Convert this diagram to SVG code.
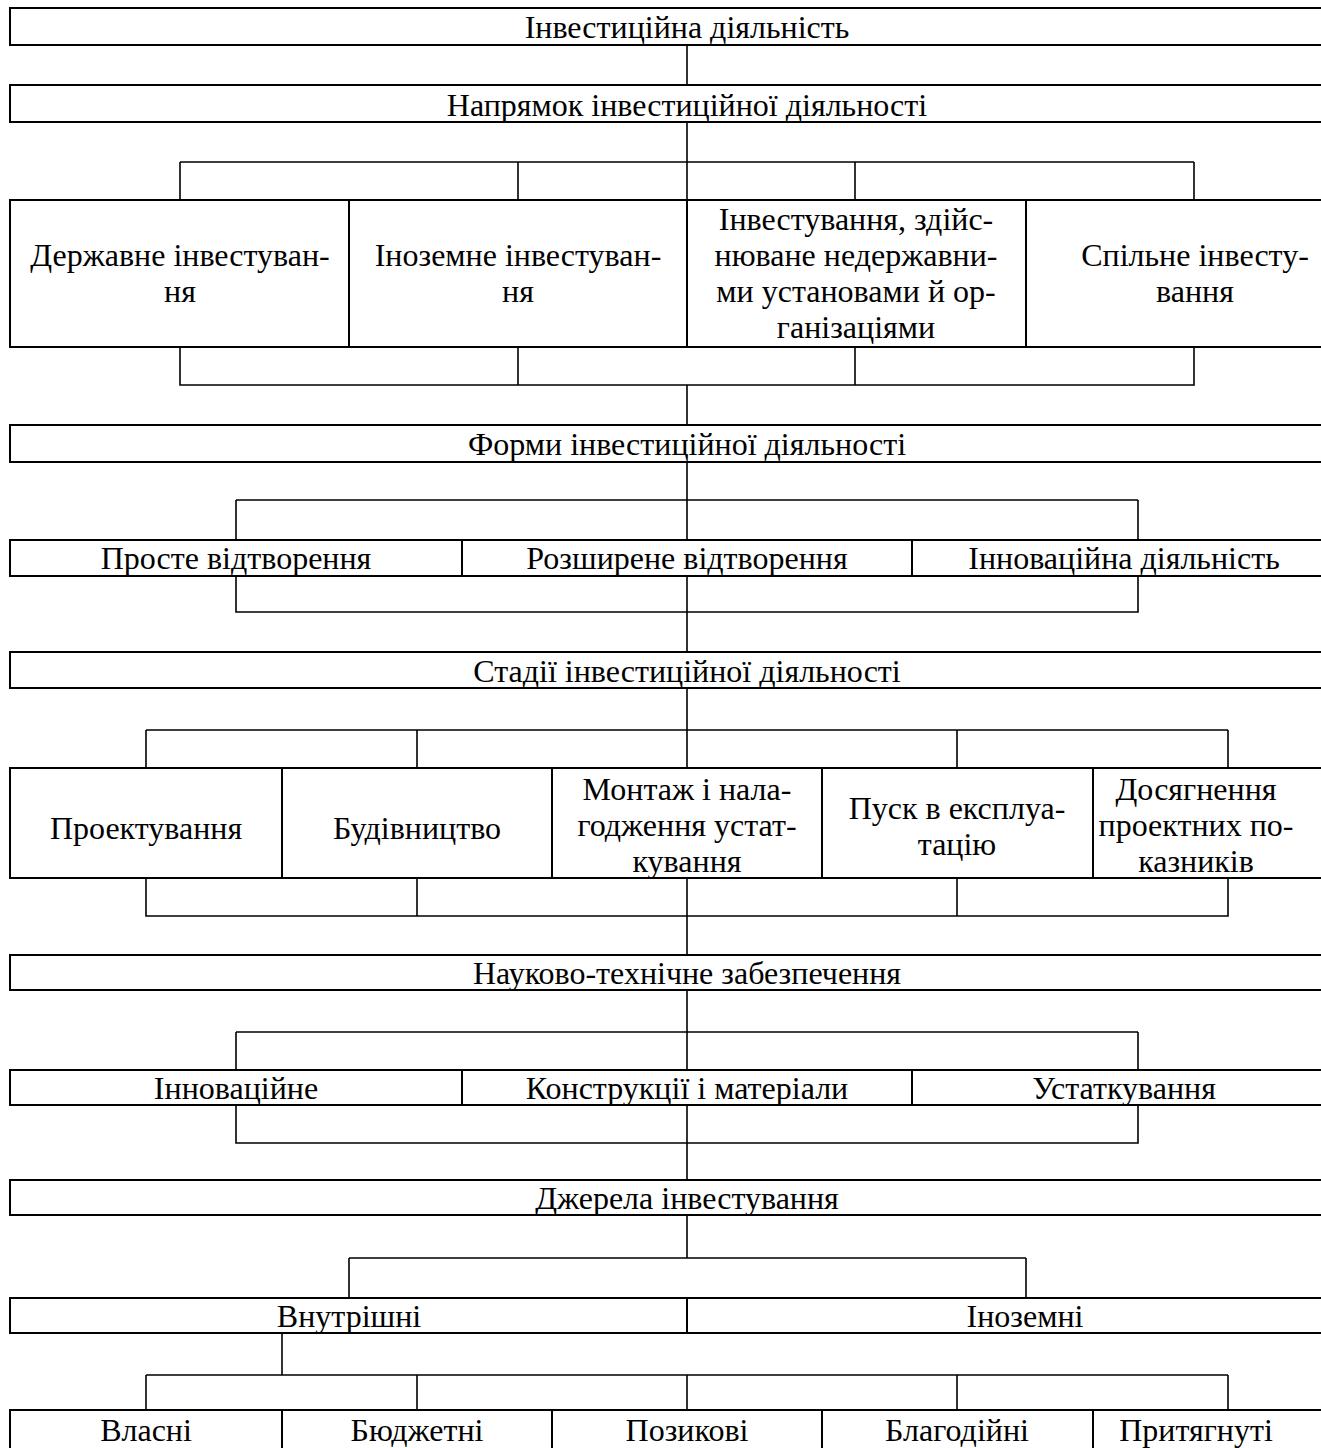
<svg xmlns="http://www.w3.org/2000/svg" width="1321" height="1448" viewBox="0 0 1321 1448">
<style>
.b{fill:#fff;stroke:#000;stroke-width:2}
.c{fill:none;stroke:#000;stroke-width:1.6}
text{font-family:"Liberation Serif","Times New Roman",serif;font-size:32px;fill:#000;text-anchor:middle}
</style>
<rect width="1321" height="1448" fill="#fff"/>
<g id="connectors">
<path class="c" d="M687 45V85M687 122V200M180 162H1194M180 162V200M518 162V200M855 162V200M1194 162V200"/>
<path class="c" d="M180 347V385H1194V347M518 347V385M855 347V385M687 385V425"/>
<path class="c" d="M687 462V540M236 500H1138M236 500V540M1138 500V540"/>
<path class="c" d="M236 576V612H1138V576M687 576V652"/>
<path class="c" d="M687 688V768M146 730H1228M146 730V768M417 730V768M957 730V768M1228 730V768"/>
<path class="c" d="M146 878V916H1228V878M417 878V916M957 878V916M687 878V955"/>
<path class="c" d="M687 990V1070M236 1032H1138M236 1032V1070M1138 1032V1070"/>
<path class="c" d="M236 1105V1143H1138V1105M687 1105V1180"/>
<path class="c" d="M687 1215V1258M349 1258H1026M349 1258V1298M1026 1258V1298"/>
<path class="c" d="M282 1333V1375M146 1375H1228M146 1375V1410M417 1375V1410M687 1375V1410M957 1375V1410M1228 1375V1410"/>
</g>
<g id="n1"><rect class="b" x="10" y="8" width="1360" height="37"/><text x="687" y="38">Інвестиційна діяльність</text></g>
<g id="n2"><rect class="b" x="10" y="85" width="1360" height="37"/><text x="687" y="116">Напрямок інвестиційної діяльності</text></g>
<g id="n3"><rect class="b" x="10" y="200" width="339" height="147"/><text x="180" y="266">Державне інвестуван-</text><text x="180" y="302">ня</text></g>
<g id="n4"><rect class="b" x="349" y="200" width="338" height="147"/><text x="518" y="266">Іноземне інвестуван-</text><text x="518" y="302">ня</text></g>
<g id="n5"><rect class="b" x="687" y="200" width="339" height="147"/><text x="856" y="230">Інвестування, здійс-</text><text x="856" y="266">нюване недержавни-</text><text x="856" y="302">ми установами й ор-</text><text x="856" y="338">ганізаціями</text></g>
<g id="n6"><rect class="b" x="1026" y="200" width="344" height="147"/><text x="1195" y="266">Спільне інвесту-</text><text x="1195" y="302">вання</text></g>
<g id="n7"><rect class="b" x="10" y="425" width="1360" height="37"/><text x="687" y="455">Форми інвестиційної діяльності</text></g>
<g id="n8"><rect class="b" x="10" y="540" width="452" height="36"/><text x="236" y="569">Просте відтворення</text></g>
<g id="n9"><rect class="b" x="462" y="540" width="450" height="36"/><text x="687" y="569">Розширене відтворення</text></g>
<g id="n10"><rect class="b" x="912" y="540" width="458" height="36"/><text x="1124" y="569">Інноваційна діяльність</text></g>
<g id="n11"><rect class="b" x="10" y="652" width="1360" height="36"/><text x="687" y="682">Стадії інвестиційної діяльності</text></g>
<g id="n12"><rect class="b" x="10" y="768" width="272" height="110"/><text x="146" y="839">Проектування</text></g>
<g id="n13"><rect class="b" x="282" y="768" width="270" height="110"/><text x="417" y="839">Будівництво</text></g>
<g id="n14"><rect class="b" x="552" y="768" width="270" height="110"/><text x="687" y="800">Монтаж і нала-</text><text x="687" y="836">годження устат-</text><text x="687" y="872">кування</text></g>
<g id="n15"><rect class="b" x="822" y="768" width="271" height="110"/><text x="957" y="819">Пуск в експлуа-</text><text x="957" y="855">тацію</text></g>
<g id="n16"><rect class="b" x="1093" y="768" width="277" height="110"/><text x="1196" y="800">Досягнення</text><text x="1196" y="836">проектних по-</text><text x="1196" y="872">казників</text></g>
<g id="n17"><rect class="b" x="10" y="955" width="1360" height="35"/><text x="687" y="984">Науково-технічне забезпечення</text></g>
<g id="n18"><rect class="b" x="10" y="1070" width="452" height="35"/><text x="236" y="1099">Інноваційне</text></g>
<g id="n19"><rect class="b" x="462" y="1070" width="450" height="35"/><text x="687" y="1099">Конструкції і матеріали</text></g>
<g id="n20"><rect class="b" x="912" y="1070" width="458" height="35"/><text x="1124" y="1099">Устаткування</text></g>
<g id="n21"><rect class="b" x="10" y="1180" width="1360" height="35"/><text x="687" y="1209">Джерела інвестування</text></g>
<g id="n22"><rect class="b" x="10" y="1298" width="677" height="35"/><text x="349" y="1327">Внутрішні</text></g>
<g id="n23"><rect class="b" x="687" y="1298" width="683" height="35"/><text x="1025" y="1327">Іноземні</text></g>
<g id="n24"><rect class="b" x="10" y="1410" width="272" height="60"/><text x="146" y="1441">Власні</text></g>
<g id="n25"><rect class="b" x="282" y="1410" width="270" height="60"/><text x="417" y="1441">Бюджетні</text></g>
<g id="n26"><rect class="b" x="552" y="1410" width="270" height="60"/><text x="687" y="1441">Позикові</text></g>
<g id="n27"><rect class="b" x="822" y="1410" width="271" height="60"/><text x="957" y="1441">Благодійні</text></g>
<g id="n28"><rect class="b" x="1093" y="1410" width="277" height="60"/><text x="1196" y="1441">Притягнуті</text></g>
</svg>
